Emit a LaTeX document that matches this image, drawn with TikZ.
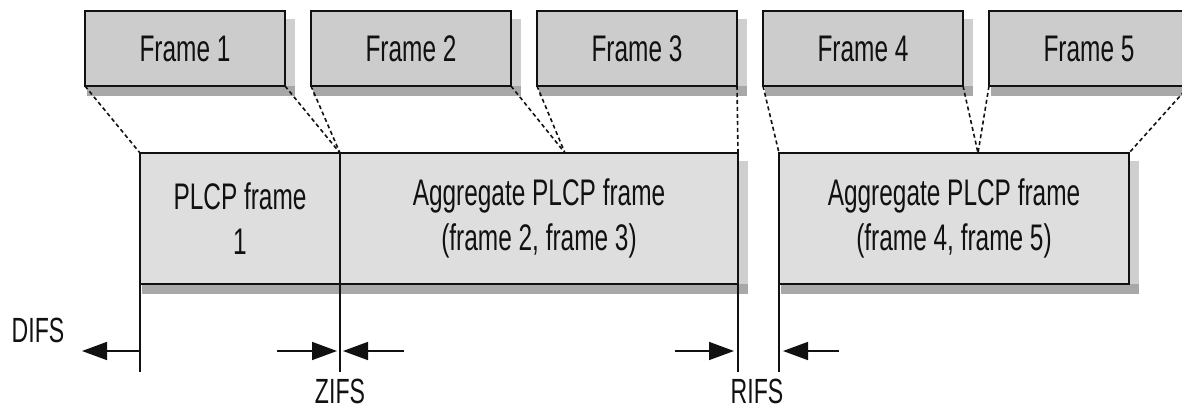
\documentclass[tikz,border=0pt]{standalone}
\usepackage{fontspec}
\setmainfont{Liberation Sans}[FakeStretch=0.66]
\usetikzlibrary{arrows.meta,calc,backgrounds}
\definecolor{framefill}{HTML}{CCCCCC}
\definecolor{plcpfill}{HTML}{DEDEDE}
\definecolor{shadowdark}{HTML}{A8A8A8}
\definecolor{shadowlight}{HTML}{CFCFCF}
\definecolor{ink}{HTML}{111111}
\begin{document}
\begin{tikzpicture}[x=1pt,y=-1pt,
  framebox/.style={draw=ink, line width=1.6pt, fill=framefill, minimum width=200pt,
    minimum height=75pt, inner sep=0pt, outer sep=0pt, anchor=north west,
    text=ink, font=\fontsize{37}{45}\selectfont},
  plcpbox/.style={draw=ink, line width=1.6pt, fill=plcpfill, minimum height=131pt,
    inner sep=0pt, outer sep=0pt, anchor=north west, align=center,
    text=ink, font=\fontsize{37}{45}\selectfont},
  maplink/.style={draw=ink, line width=1.6pt, dash pattern=on 4pt off 3pt},
  extline/.style={draw=ink, line width=1.6pt},
  dimarrow/.style={draw=ink, line width=1.6pt, -{Triangle[length=25pt,width=18pt]}},
  dimlabel/.style={text=ink, inner sep=0pt, font=\fontsize{35}{40}\selectfont},
  shdark/.style={fill=shadowdark},
  shlight/.style={fill=shadowlight}
]
\useasboundingbox (0,0) rectangle (1182,409);

% top frames
\node[framebox] (f1) at (85,11) {Frame 1};
\node[framebox] (f2) at (311,11) {Frame 2};
\node[framebox] (f3) at (537,11) {Frame 3};
\node[framebox] (f4) at (763,11) {Frame 4};
\node[framebox] (f5) at (989,11) {Frame 5};

% PLCP frames
\node[plcpbox, minimum width=200pt] (pa) at (140,153) {PLCP frame\\1};
\node[plcpbox, minimum width=398pt] (pb) at (340,153) {Aggregate PLCP frame\\(frame 2, frame 3)};
\node[plcpbox, minimum width=350pt] (pc) at (779,153) {Aggregate PLCP frame\\(frame 4, frame 5)};

% shadows
\begin{scope}[on background layer]
  \foreach \f in {f1,f2,f3,f4,f5,pc}{
    \fill[shlight] ($(\f.north east)+(0,8)$) rectangle ($(\f.south east)+(10,0)$);
    \fill[shdark] ($(\f.south west)+(2,0)$) rectangle ($(\f.south east)+(10,10)$);
  }
  \fill[shlight] ($(pb.north east)+(0,8)$) rectangle ($(pb.south east)+(10,0)$);
  \fill[shdark] ($(pa.south west)+(2,0)$) rectangle ($(pb.south east)+(10,10)$);
\end{scope}

% mapping lines
\coordinate (mb) at (565,153);
\coordinate (mc) at (978,153);
\draw[maplink] (f1.south west) -- (pa.north west);
\draw[maplink] (f1.south east) -- (pb.north west);
\draw[maplink] (f2.south west) -- (pb.north west);
\draw[maplink] (f2.south east) -- (mb);
\draw[maplink] (f3.south west) -- (mb);
\draw[maplink] (f3.south east) -- (pb.north east);
\draw[maplink] (f4.south west) -- (pc.north west);
\draw[maplink] (f4.south east) -- (mc);
\draw[maplink] (f5.south west) -- (mc);
\draw[maplink] (f5.south east) -- (pc.north east);

% extension lines
\coordinate (ea) at (140,372);
\coordinate (eb) at (340,372);
\coordinate (ec) at (738,372);
\coordinate (ed) at (779,372);
\draw[extline] (pa.south west) -- (ea);
\draw[extline] (pb.south west) -- (eb);
\draw[extline] (pb.south east) -- (ec);
\draw[extline] (pc.south west) -- (ed);

% dimension arrows
\coordinate (d0) at (140,351);
\coordinate (d0t) at (82,351);
\coordinate (z1) at (277,351);
\coordinate (z1t) at (337,351);
\coordinate (z2) at (404,351);
\coordinate (z2t) at (343,351);
\coordinate (r1) at (675,351);
\coordinate (r1t) at (734,351);
\coordinate (r2) at (839,351);
\coordinate (r2t) at (783,351);
\draw[dimarrow] (d0) -- (d0t);
\draw[dimarrow] (z1) -- (z1t);
\draw[dimarrow] (z2) -- (z2t);
\draw[dimarrow] (r1) -- (r1t);
\draw[dimarrow] (r2) -- (r2t);

% labels
\node[dimlabel] (difs) at (38,330) {DIFS};
\node[dimlabel] (zifs) at (340,391) {ZIFS};
\node[dimlabel] (rifs) at (757,391) {RIFS};
\end{tikzpicture}
\end{document}
